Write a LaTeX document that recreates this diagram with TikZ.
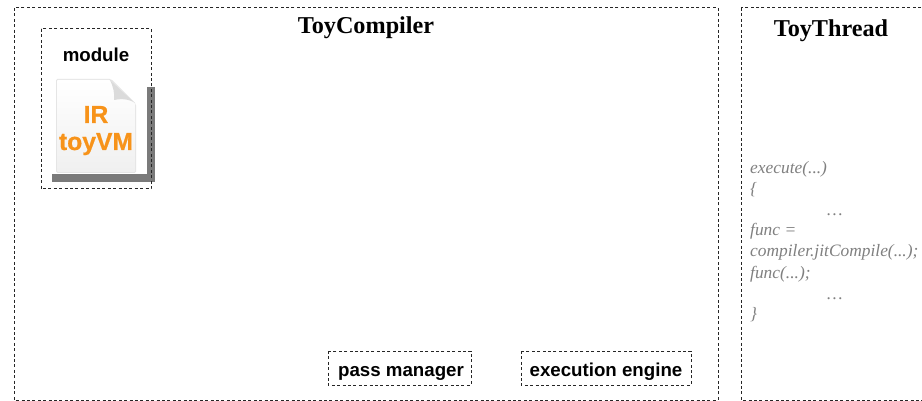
\documentclass[tikz,border=0pt]{standalone}
\usepackage{fontspec}
\setmainfont{Liberation Serif}
\setsansfont{Liberation Sans}
\newfontfamily\irfont[FakeBold=0.6]{Liberation Sans Bold}
\usetikzlibrary{shadings}
\definecolor{irorange}{HTML}{F7931A}
\tikzset{
  x=1pt,y=-1pt,
  dbox/.style={draw=black!85,line width=1pt,dash pattern=on 3pt off 2.4pt},
  title/.style={font=\fontsize{24.2}{28}\selectfont\bfseries,text=black,inner sep=0pt,anchor=base},
  lab/.style={font=\sffamily\fontsize{18.7}{22}\selectfont\bfseries,text=black,inner sep=0pt,anchor=base},
  irtext/.style={font=\irfont\fontsize{24.7}{28}\selectfont,text=irorange,inner sep=0pt,anchor=base},
  code/.style={font=\itshape\fontsize{17.4}{18}\selectfont,text=black!50,inner sep=0pt,anchor=base west},
  bar/.style={fill=black!52,draw=none},
}
\begin{document}
\begin{tikzpicture}
\useasboundingbox (0,0) rectangle (922,401);
\fill[white] (0,0) rectangle (922,401);
% document icon
\fill[black!10,rounded corners=1.5pt] (56,79) -- (111,79) -- (136,104) -- (136,173) -- (56,173) -- cycle;
\shade[top color=white,bottom color=black!6,shading angle=0,rounded corners=1pt] (57,80) -- (110,80) -- (135,103) -- (135,172) -- (57,172) -- cycle;
\fill[black!14] (110,80) -- (135,103) .. controls (128,98) and (118,99) .. (114,100) .. controls (115,94) and (113,86) .. (110,80) -- cycle;
% shadow bars
\fill[bar] (52,174) rectangle (155,182);
\fill[bar] (147,87) rectangle (155,182);
% boxes
\draw[dbox] (14,8) rectangle (718,400);
\draw[dbox] (741,8) rectangle (925,400);
\draw[dbox] (41,29) rectangle (151,189);
\draw[dbox] (328,351) rectangle (471,385);
\draw[dbox] (521,351) rectangle (691,385);
% texts
\node[title] (compiler) at (366,34) {ToyCompiler};
\node[title] (thread) at (831,37) {ToyThread};
\node[lab] (module) at (96,62) {module};
\node[lab] (pass) at (401,376) {pass manager};
\node[lab] (engine) at (606,376) {execution engine};
\node[irtext] (ir) at (96,123) {IR};
\node[irtext] (toyvm) at (96,150) {toyVM};
\node[code] (c1) at (750,174) {execute(...)};
\node[code] (c2) at (750,195) {\{};
\node[code] (c3) at (827,216) {…};
\node[code] (c4) at (750,236) {func =};
\node[code] (c5) at (750,257) {compiler.jitCompile(...);};
\node[code] (c6) at (750,278) {func(...);};
\node[code] (c7) at (827,299) {…};
\node[code] (c8) at (750,319) {\}};
\end{tikzpicture}
\end{document}
